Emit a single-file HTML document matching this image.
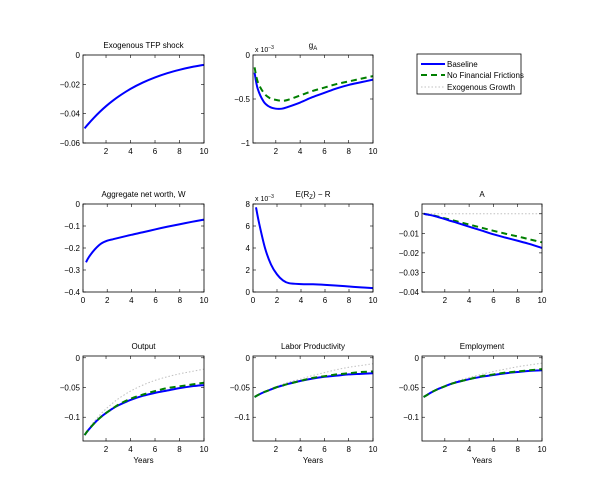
<!DOCTYPE html>
<html><head><meta charset="utf-8"><style>
html,body{margin:0;padding:0;background:#fff;}
svg{display:block;font-family:"Liberation Sans",Arial,sans-serif;}
</style></head><body>
<svg id="fig" width="600" height="496" viewBox="0 0 600 496" xmlns="http://www.w3.org/2000/svg"></svg>
<script>
const years = [0.25,0.5,1,1.5,2,2.5,3,4,5,6,7,8,9,10];
const tfpBase = [-0.05,-0.0475,-0.0429,-0.0387,-0.0349,-0.0315,-0.0284,-0.0231,-0.0188,-0.0153,-0.0124,-0.0101,-0.0082,-0.0067];
const gaBase = [-0.2,-0.38,-0.53,-0.59,-0.61,-0.61,-0.59,-0.54,-0.48,-0.43,-0.38,-0.34,-0.31,-0.28];
const gaNff = [-0.14,-0.3,-0.43,-0.49,-0.51,-0.52,-0.51,-0.46,-0.41,-0.37,-0.33,-0.30,-0.27,-0.24];
const nwBase = [-0.265,-0.24,-0.205,-0.18,-0.167,-0.16,-0.153,-0.14,-0.128,-0.115,-0.103,-0.092,-0.081,-0.071];
const spreadBase = [7.7,6.3,4.0,2.5,1.6,1.05,0.8,0.72,0.7,0.65,0.58,0.5,0.42,0.35];
const aBase = [0,-0.0003,-0.0009,-0.0018,-0.0027,-0.0037,-0.0046,-0.0066,-0.0085,-0.0105,-0.0122,-0.0138,-0.0155,-0.0175];
const aNff = [0,-0.0003,-0.0008,-0.0015,-0.0023,-0.0031,-0.0039,-0.0055,-0.0071,-0.0087,-0.0102,-0.0116,-0.0131,-0.0146];
const aExo = [0,0,0,0,0,0,0,0,0,0,0,0,0,0];
const outBase = [-0.13,-0.123,-0.111,-0.101,-0.093,-0.086,-0.08,-0.071,-0.064,-0.059,-0.055,-0.051,-0.048,-0.046];
const outNff = [-0.13,-0.123,-0.111,-0.101,-0.093,-0.086,-0.079,-0.069,-0.062,-0.056,-0.051,-0.048,-0.045,-0.042];
const outExo = [-0.13,-0.122,-0.108,-0.096,-0.086,-0.077,-0.069,-0.056,-0.046,-0.038,-0.032,-0.027,-0.023,-0.019];
const lpBase = [-0.066,-0.063,-0.058,-0.054,-0.05,-0.047,-0.044,-0.039,-0.035,-0.032,-0.03,-0.028,-0.027,-0.026];
const lpNff = [-0.066,-0.063,-0.058,-0.054,-0.05,-0.047,-0.044,-0.039,-0.034,-0.031,-0.028,-0.026,-0.024,-0.023];
const lpExo = [-0.066,-0.063,-0.058,-0.053,-0.049,-0.045,-0.041,-0.036,-0.03,-0.025,-0.02,-0.016,-0.013,-0.010];
const empBase = [-0.066,-0.063,-0.057,-0.052,-0.048,-0.044,-0.041,-0.036,-0.032,-0.029,-0.026,-0.024,-0.022,-0.021];
const empNff = [-0.066,-0.063,-0.057,-0.052,-0.048,-0.044,-0.041,-0.036,-0.031,-0.028,-0.025,-0.023,-0.021,-0.019];
const empExo = [-0.066,-0.063,-0.057,-0.052,-0.047,-0.043,-0.039,-0.033,-0.028,-0.023,-0.019,-0.015,-0.012,-0.009];
const xTicks = [2,4,6,8,10];
const xTicks0 = [0,2,4,6,8,10];

const NS="http://www.w3.org/2000/svg";
const svg=document.getElementById('fig');
function mk(tag,attrs,parent){const e=document.createElementNS(NS,tag);for(const k in attrs)e.setAttribute(k,attrs[k]);(parent||svg).appendChild(e);return e;}
function smooth(P){
  let d='M'+P[0][0].toFixed(2)+','+P[0][1].toFixed(2);
  for(let i=0;i<P.length-1;i++){
    const p0=P[Math.max(i-1,0)],p1=P[i],p2=P[i+1],p3=P[Math.min(i+2,P.length-1)];
    const c1x=p1[0]+(p2[0]-p0[0])/6,c1y=p1[1]+(p2[1]-p0[1])/6;
    const c2x=p2[0]-(p3[0]-p1[0])/6,c2y=p2[1]-(p3[1]-p1[1])/6;
    d+=' C'+c1x.toFixed(2)+','+c1y.toFixed(2)+' '+c2x.toFixed(2)+','+c2y.toFixed(2)+' '+p2[0].toFixed(2)+','+p2[1].toFixed(2);
  }
  return d;
}

const cols=[[83,204],[253,373],[422,542]];
const rows=[[55,143],[204,292],[356,441]];

const panels=[
 {name:'tfp-shock',c:0,r:0,title:'Exogenous TFP shock',xd:[0.12,10],xt:xTicks,yd:[-0.06,0],yt:[0,-0.02,-0.04,-0.06],yl:['0','\u22120.02','\u22120.04','\u22120.06'],s:[['base',tfpBase]]},
 {name:'ga',c:1,r:0,title:'g',sub:'A',xd:[0.12,10],xt:xTicks,yd:[-1,0],yt:[0,-0.5,-1],yl:['0','\u22120.5','\u22121'],exp:true,s:[['base',gaBase],['nff',gaNff]]},
 {name:'net-worth',c:0,r:1,title:'Aggregate net worth, W',xd:[0,10],xt:xTicks0,yd:[-0.4,0],yt:[0,-0.1,-0.2,-0.3,-0.4],yl:['0','\u22120.1','\u22120.2','\u22120.3','\u22120.4'],s:[['base',nwBase]]},
 {name:'spread',c:1,r:1,title:'E(R',sub:'Z',title2:') \u2212 R',xd:[0,10],xt:xTicks0,yd:[0,8],yt:[0,2,4,6,8],yl:['0','2','4','6','8'],exp:true,s:[['base',spreadBase]]},
 {name:'a',c:2,r:1,title:'A',xd:[0.12,10],xt:xTicks,yd:[-0.04,0.005],yt:[0,-0.01,-0.02,-0.03,-0.04],yl:['0','\u22120.01','\u22120.02','\u22120.03','\u22120.04'],s:[['exo',aExo],['nff',aNff],['base',aBase]]},
 {name:'output',c:0,r:2,title:'Output',xd:[0.12,10],xt:xTicks,yd:[-0.14,0.003],yt:[0,-0.05,-0.1],yl:['0','\u22120.05','\u22120.1'],years:true,s:[['exo',outExo],['base',outBase],['nff',outNff]]},
 {name:'labor-productivity',c:1,r:2,title:'Labor Productivity',xd:[0.12,10],xt:xTicks,yd:[-0.14,0.003],yt:[0,-0.05,-0.1],yl:['0','\u22120.05','\u22120.1'],years:true,s:[['exo',lpExo],['base',lpBase],['nff',lpNff]]},
 {name:'employment',c:2,r:2,title:'Employment',xd:[0.12,10],xt:xTicks,yd:[-0.14,0.003],yt:[0,-0.05,-0.1],yl:['0','\u22120.05','\u22120.1'],years:true,s:[['exo',empExo],['base',empBase],['nff',empNff]]}
];
const styles={base:{stroke:'#0000ff','stroke-width':2},nff:{stroke:'#007f00','stroke-width':2,'stroke-dasharray':'6,4'},exo:{stroke:'#c0c0c0','stroke-width':1,'stroke-dasharray':'1.5,2'}};

panels.forEach(p=>{
  const [x0,x1]=cols[p.c],[y0,y1]=rows[p.r];
  const g=mk('g',{});
  
  
  const sx=v=>x0+(v-p.xd[0])/(p.xd[1]-p.xd[0])*(x1-x0);
  const sy=v=>y1-(v-p.yd[0])/(p.yd[1]-p.yd[0])*(y1-y0);
  mk('rect',{x:x0,y:y0,width:x1-x0,height:y1-y0,fill:'#fff',stroke:'none'},g);
  p.s.forEach(([k,arr])=>{
    const P=years.map((t,i)=>[sx(t),sy(arr[i])]);
    const pl=mk('path',Object.assign({d:smooth(P),fill:'none','stroke-linejoin':'round'},styles[k]),g);
    
    
  });
  mk('rect',{x:x0,y:y0,width:x1-x0,height:y1-y0,fill:'none',stroke:'#000','stroke-width':0.8},g);
  p.xt.forEach(t=>{
    const x=sx(t);
    mk('line',{x1:x,x2:x,y1:y1,y2:y1-3,stroke:'#000','stroke-width':0.6},g);
    mk('line',{x1:x,x2:x,y1:y0,y2:y0+3,stroke:'#000','stroke-width':0.6},g);
    const tx=mk('text',{x:x,y:y1+11,'font-size':8,'text-anchor':'middle'},g);tx.textContent=t;
  });
  p.yt.forEach((t,i)=>{
    const y=sy(t);
    mk('line',{x1:x0,x2:x0+3,y1:y,y2:y,stroke:'#000','stroke-width':0.6},g);
    mk('line',{x1:x1,x2:x1-3,y1:y,y2:y,stroke:'#000','stroke-width':0.6},g);
    const tx=mk('text',{x:x0-3,y:y+3,'font-size':8,'text-anchor':'end'},g);tx.textContent=p.yl[i];
  });
  const ti=mk('text',{x:(x0+x1)/2,y:y0-7,'font-size':8,'text-anchor':'middle'},g);
  
  
  ti.appendChild(document.createTextNode(p.title));
  if(p.sub){const ts=mk('tspan',{'font-size':6,dy:2},ti);ts.textContent=p.sub;}
  if(p.title2){const t2=mk('tspan',{dy:-2},ti);t2.textContent=p.title2;}
  if(p.exp){const e=mk('text',{x:x0+2,y:y0-3,'font-size':7},g);e.textContent='x 10';const s=mk('tspan',{'font-size':5,dy:-3},e);s.textContent='\u22123';}
  if(p.years){const yx=mk('text',{x:(x0+x1)/2,y:y1+22,'font-size':8,'text-anchor':'middle'},g);yx.textContent='Years';}
});

const lg=mk('g',{});


mk('rect',{x:417,y:54,width:104,height:40,fill:'#fff',stroke:'#000','stroke-width':0.8},lg);
[['base','Baseline',64],['nff','No Financial Frictions',75],['exo','Exogenous Growth',87]].forEach(([k,l,y])=>{
  const e=mk('g',{},lg);
  
  
  mk('line',Object.assign({x1:421,x2:445,y1:y,y2:y},styles[k]),e);
  const t=mk('text',{x:447,y:y+3,'font-size':8},e);t.textContent=l;
});
</script>
</body></html>
